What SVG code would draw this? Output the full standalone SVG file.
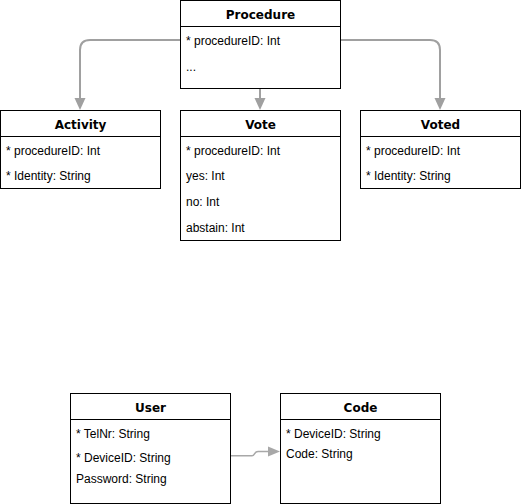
<svg xmlns="http://www.w3.org/2000/svg" width="521" height="504" viewBox="0 0 521 504">
<defs>
<style>
.box{fill:#fff;stroke:#000;stroke-width:1}
.title{font-family:"DejaVu Sans",Verdana,sans-serif;font-weight:bold;font-size:12px;text-anchor:middle;fill:#000}
.attr{font-family:"Liberation Sans",Arial,sans-serif;font-size:12px;fill:#000}
.conn{fill:none;stroke:#a0a0a0;stroke-width:2}
.conn2{fill:none;stroke:#a8a8a8;stroke-width:1.5}
.head{fill:#a0a0a0;stroke:none}
</style>
</defs>
<rect width="521" height="504" fill="#fff"/>
<g id="connectors">
<path class="conn" d="M180,40 H90 Q80,40 80,50 V99"/>
<polygon class="head" points="74.5,98 85.5,98 80,110"/>
<path class="conn" d="M260,88 V99"/>
<polygon class="head" points="254.5,98 265.5,98 260,110"/>
<path class="conn" d="M340,40 H430 Q440,40 440,50 V99"/>
<polygon class="head" points="434.5,98 445.5,98 440,110"/>
<path class="conn2" d="M230,455.7 H252 C255,455.7 254,451.5 258,451.5 H269"/>
<polygon class="head" points="268,446.5 268,456.5 280,451.5" style="fill:#a8a8a8"/>
</g>
<g id="procedure">
<rect class="box" x="180.5" y="0.5" width="160" height="88"/>
<line x1="180.5" y1="26.5" x2="340.5" y2="26.5" stroke="#000"/>
<text class="title" x="260.5" y="18.5">Procedure</text>
<text class="attr" x="186" y="44.5">* procedureID: Int</text>
<text class="attr" x="186" y="71">...</text>
</g>
<g id="activity">
<rect class="box" x="0.5" y="110.5" width="160" height="78"/>
<line x1="0.5" y1="136.5" x2="160.5" y2="136.5" stroke="#000"/>
<text class="title" x="80.5" y="128.5">Activity</text>
<text class="attr" x="6" y="154.5">* procedureID: Int</text>
<text class="attr" x="6" y="180">* Identity: String</text>
</g>
<g id="vote">
<rect class="box" x="180.5" y="110.5" width="160" height="130"/>
<line x1="180.5" y1="136.5" x2="340.5" y2="136.5" stroke="#000"/>
<text class="title" x="260.5" y="128.5">Vote</text>
<text class="attr" x="186" y="154.5">* procedureID: Int</text>
<text class="attr" x="186" y="180">yes: Int</text>
<text class="attr" x="186" y="206">no: Int</text>
<text class="attr" x="186" y="232">abstain: Int</text>
</g>
<g id="voted">
<rect class="box" x="360.5" y="110.5" width="160" height="78"/>
<line x1="360.5" y1="136.5" x2="520.5" y2="136.5" stroke="#000"/>
<text class="title" x="440.5" y="128.5">Voted</text>
<text class="attr" x="366" y="154.5">* procedureID: Int</text>
<text class="attr" x="366" y="180">* Identity: String</text>
</g>
<g id="user">
<rect class="box" x="70.5" y="393.5" width="160" height="110"/>
<line x1="70.5" y1="419.5" x2="230.5" y2="419.5" stroke="#000"/>
<text class="title" x="150.5" y="411.5">User</text>
<text class="attr" x="76" y="437.5">* TelNr: String</text>
<text class="attr" x="76" y="462">* DeviceID: String</text>
<text class="attr" x="76" y="482.5">Password: String</text>
</g>
<g id="code">
<rect class="box" x="280.5" y="393.5" width="160" height="110"/>
<line x1="280.5" y1="419.5" x2="440.5" y2="419.5" stroke="#000"/>
<text class="title" x="360.5" y="411.5">Code</text>
<text class="attr" x="286" y="437.5">* DeviceID: String</text>
<text class="attr" x="286" y="458">Code: String</text>
</g>
</svg>
